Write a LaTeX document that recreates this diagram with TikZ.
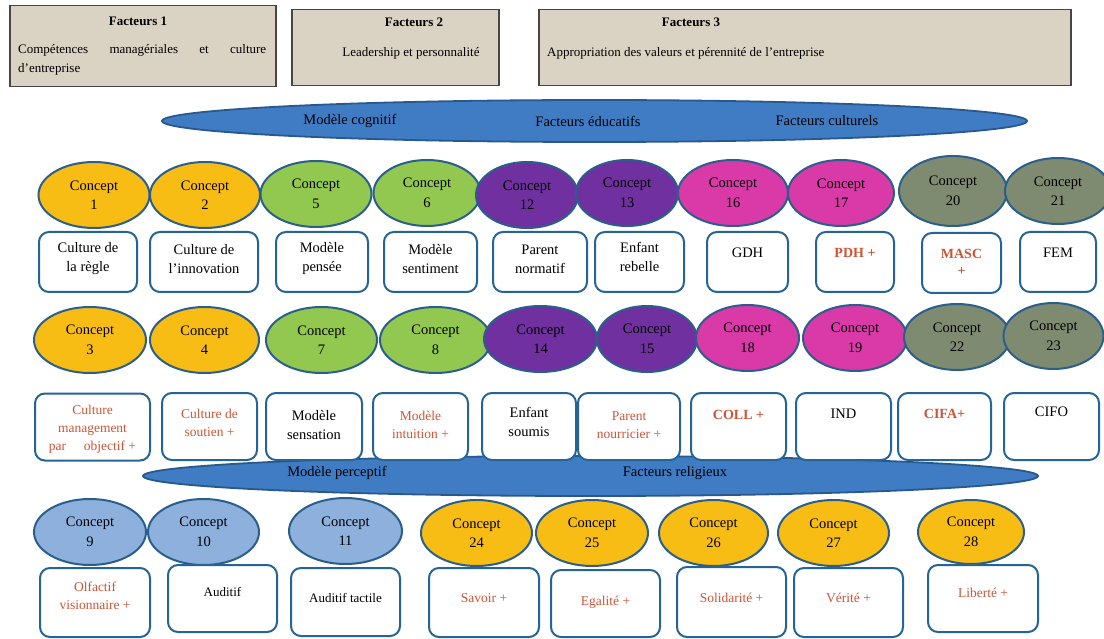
\documentclass[tikz,border=0pt]{standalone}
\usepackage{fontspec}
\setmainfont{Liberation Serif}
\usetikzlibrary{shapes.geometric}
\definecolor{ellb}{RGB}{42,94,140}
\definecolor{boxb}{RGB}{36,100,150}
\definecolor{spfill}{RGB}{64,124,196}
\definecolor{spb}{RGB}{40,88,140}
\definecolor{cgold}{RGB}{248,189,20}
\definecolor{cgreen}{RGB}{146,200,80}
\definecolor{cpurple}{RGB}{112,48,160}
\definecolor{cmagenta}{RGB}{217,58,168}
\definecolor{cgrey}{RGB}{127,139,112}
\definecolor{cblue}{RGB}{141,176,220}
\definecolor{redtxt}{RGB}{205,85,55}
\definecolor{facfill}{RGB}{218,210,195}
\definecolor{facb}{RGB}{70,70,70}
\begin{document}
\begin{tikzpicture}[x=1pt,y=-1pt,
  concept/.style={ellipse, draw=ellb, line width=2pt, inner sep=0pt, align=center,
    font=\fontsize{14.5}{19.5}\selectfont},
  tbox/.style={rectangle, rounded corners=10pt, draw=boxb, line width=2pt, fill=white, inner sep=0pt},
  btext/.style={align=center, inner sep=0pt, font=\fontsize{14.5}{19}\selectfont},
  stext/.style={align=center, inner sep=0pt, font=\fontsize{13}{18}\selectfont},
  rtext/.style={align=center, inner sep=0pt, text=redtxt, font=\fontsize{13.5}{18}\selectfont},
  rbold/.style={align=center, inner sep=0pt, text=redtxt, font=\fontsize{14}{17}\selectfont\bfseries},
  spindle/.style={ellipse, fill=spfill, draw=spb, line width=1.8pt, inner sep=0pt},
  sptext/.style={inner sep=0pt, font=\fontsize{14.5}{17}\selectfont},
  facbox/.style={rectangle, draw=facb, fill=facfill, line width=1.5pt, inner sep=0pt, anchor=north west},
  factitle/.style={inner sep=0pt, font=\fontsize{13}{15}\selectfont\bfseries},
  factext/.style={inner sep=0pt, font=\fontsize{13}{15}\selectfont}]
\useasboundingbox (0,0) rectangle (1104,639);
\fill[white] (0,0) rectangle (1104,639);

% ---- top factor boxes
\node[facbox, minimum width=266, minimum height=81] (f1) at (9,5) {};
\node[factitle] (f1t) at (138,21) {Facteurs 1};
\node[factext, anchor=west] (f1a) at (18,50) {\makebox[248pt][s]{Compétences managériales et culture}};
\node[factext, anchor=west] (f1b) at (18,69) {d'entreprise};

\node[facbox, minimum width=207, minimum height=76] (f2) at (291,9) {};
\node[factitle] (f2t) at (414,22) {Facteurs 2};
\node[factext] (f2a) at (411,53) {Leadership et personnalité};

\node[facbox, minimum width=532, minimum height=76] (f3) at (538,9) {};
\node[factitle] (f3t) at (691,22) {Facteurs 3};
\node[factext, anchor=west] (f3a) at (547,53) {Appropriation des valeurs et pérennité de l'entreprise};

% ---- spindle 1
\node[spindle, minimum width=865, minimum height=42] (s1) at (594.5,121) {};
\node[sptext] (s1a) at (350,121) {Modèle cognitif};
\node[sptext] (s1b) at (588,121) {Facteurs éducatifs};
\node[sptext] (s1c) at (827,121) {Facteurs culturels};

% ---- row 1 concepts
\node[concept, fill=cgold,    minimum width=111, minimum height=66] (c1)  at (94,195)   {Concept\\1};
\node[concept, fill=cgold,    minimum width=110, minimum height=66] (c2)  at (205,195)  {Concept\\2};
\node[concept, fill=cgreen,   minimum width=111, minimum height=66] (c5)  at (316,194)  {Concept\\5};
\node[concept, fill=cgreen,   minimum width=107, minimum height=66] (c6)  at (427,193)  {Concept\\6};
\node[concept, fill=cpurple,  minimum width=102, minimum height=66] (c12) at (527,195)  {Concept\\12};
\node[concept, fill=cpurple,  minimum width=102, minimum height=66] (c13) at (627,193)  {Concept\\13};
\node[concept, fill=cmagenta, minimum width=110, minimum height=66] (c16) at (733,193)  {Concept\\16};
\node[concept, fill=cmagenta, minimum width=106, minimum height=66] (c17) at (841,193)  {Concept\\17};
\node[concept, fill=cgrey,    minimum width=108, minimum height=70] (c20) at (953,191)  {Concept\\20};
\node[concept, fill=cgrey,    minimum width=106, minimum height=66] (c21) at (1058,191) {Concept\\21};

% ---- row 1 boxes
\node[tbox, minimum width=98,  minimum height=60] (b1)  at (88,262)   {};
\node[btext] (t1)  at (88,259)   {Culture de\\la règle};
\node[tbox, minimum width=108, minimum height=60] (b2)  at (204,262)  {};
\node[btext] (t2)  at (204,259)  {Culture de\\l'innovation};
\node[tbox, minimum width=92,  minimum height=60] (b5)  at (322,262)  {};
\node[btext] (t5)  at (322,259)  {Modèle\\pensée};
\node[tbox, minimum width=93,  minimum height=60] (b6)  at (430.5,262) {};
\node[btext] (t6)  at (430.5,259) {Modèle\\sentiment};
\node[tbox, minimum width=94,  minimum height=60] (b12) at (540,262)  {};
\node[btext] (t12) at (540,259)  {Parent\\normatif};
\node[tbox, minimum width=89,  minimum height=60] (b13) at (639.5,262) {};
\node[btext] (t13) at (639.5,257) {Enfant\\rebelle};
\node[tbox, minimum width=81,  minimum height=60] (b16) at (747.5,262) {};
\node[btext] (t16) at (747.5,253) {GDH};
\node[tbox, minimum width=78,  minimum height=60] (b17) at (855,262)  {};
\node[rbold] (t17) at (855,253)  {PDH +};
\node[tbox, minimum width=79,  minimum height=60] (b20) at (961.5,263) {};
\node[rbold] (t20) at (961.5,262) {MASC\\+};
\node[tbox, minimum width=76,  minimum height=60] (b21) at (1058,262) {};
\node[btext] (t21) at (1058,253) {FEM};

% ---- row 2 concepts
\node[concept, fill=cgold,    minimum width=112, minimum height=66] (c3)  at (90,340)    {Concept\\3};
\node[concept, fill=cgold,    minimum width=109, minimum height=66] (c4)  at (204.5,340) {Concept\\4};
\node[concept, fill=cgreen,   minimum width=111, minimum height=66] (c7)  at (321.5,340) {Concept\\7};
\node[concept, fill=cgreen,   minimum width=111, minimum height=66] (c8)  at (435.5,340) {Concept\\8};
\node[concept, fill=cpurple,  minimum width=113, minimum height=66] (c14) at (540.5,339) {Concept\\14};
\node[concept, fill=cpurple,  minimum width=100, minimum height=66] (c15) at (647,339)   {Concept\\15};
\node[concept, fill=cmagenta, minimum width=103, minimum height=66] (c18) at (747.5,338) {Concept\\18};
\node[concept, fill=cmagenta, minimum width=104, minimum height=66] (c19) at (855,338)   {Concept\\19};
\node[concept, fill=cgrey,    minimum width=106, minimum height=66] (c22) at (957,337)   {Concept\\22};
\node[concept, fill=cgrey,    minimum width=100, minimum height=66] (c23) at (1053.5,336) {Concept\\23};

% ---- spindle 2 (behind row 2 boxes)
\node[spindle, minimum width=895, minimum height=40] (s2) at (590.5,476) {};
\node[sptext] (s2a) at (337,473) {Modèle perceptif};
\node[sptext] (s2b) at (675,473) {Facteurs religieux};

% ---- row 2 boxes
\node[tbox, minimum width=115, minimum height=67] (b3)  at (92.5,427)  {};
\node[rtext] (t3)  at (92.5,429)  {Culture\\management\\par\hspace{1.3em}objectif +};
\node[tbox, minimum width=95,  minimum height=67] (b4)  at (209.5,426.5) {};
\node[rtext] (t4)  at (209.5,423) {Culture de\\soutien +};
\node[tbox, minimum width=96,  minimum height=67] (b7)  at (314,426.5)  {};
\node[btext] (t7)  at (314,425)  {Modèle\\sensation};
\node[tbox, minimum width=95,  minimum height=67] (b8)  at (420.5,426.5) {};
\node[rtext] (t8)  at (420.5,425) {Modèle\\intuition +};
\node[tbox, minimum width=94,  minimum height=67] (b14) at (529,426.5)  {};
\node[btext] (t14) at (529,422)  {Enfant\\soumis};
\node[tbox, minimum width=102, minimum height=67] (b15) at (629,426.5)  {};
\node[rtext] (t15) at (629,425)  {Parent\\nourricier +};
\node[tbox, minimum width=95,  minimum height=67] (b18) at (738.5,426.5) {};
\node[rbold] (t18) at (738.5,415) {COLL +};
\node[tbox, minimum width=95,  minimum height=67] (b19) at (843.5,426.5) {};
\node[btext] (t19) at (843.5,414) {IND};
\node[tbox, minimum width=93,  minimum height=67] (b22) at (944.5,426.5) {};
\node[rbold] (t22) at (944.5,414) {CIFA+};
\node[tbox, minimum width=95,  minimum height=67] (b23) at (1051.5,426.5) {};
\node[btext] (t23) at (1051.5,412) {CIFO};

% ---- row 3 concepts
\node[concept, fill=cblue, minimum width=112, minimum height=66] (c9)  at (90,532)    {Concept\\9};
\node[concept, fill=cblue, minimum width=111, minimum height=66] (c10) at (203.5,532) {Concept\\10};
\node[concept, fill=cblue, minimum width=113, minimum height=66] (c11) at (345.5,531) {Concept\\11};
\node[concept, fill=cgold, minimum width=111, minimum height=66] (c24) at (476.5,533) {Concept\\24};
\node[concept, fill=cgold, minimum width=112, minimum height=66] (c25) at (592,533)   {Concept\\25};
\node[concept, fill=cgold, minimum width=109, minimum height=66] (c26) at (713.5,533) {Concept\\26};
\node[concept, fill=cgold, minimum width=111, minimum height=66] (c27) at (833.5,533) {Concept\\27};
\node[concept, fill=cgold, minimum width=106, minimum height=64] (c28) at (971,532)   {Concept\\28};

% ---- row 3 boxes
\node[tbox, minimum width=110, minimum height=69] (b9)  at (95,602.5)   {};
\node[rtext] (t9)  at (95,596)    {Olfactif\\visionnaire +};
\node[tbox, minimum width=109, minimum height=67] (b10) at (222.5,598.5) {};
\node[stext] (t10) at (222.5,592) {Auditif};
\node[tbox, minimum width=109, minimum height=68] (b11) at (345.5,602)  {};
\node[stext] (t11) at (345.5,598) {Auditif tactile};
\node[tbox, minimum width=110, minimum height=69] (b24) at (484,602.5)  {};
\node[rtext] (t24) at (484,598)   {Savoir +};
\node[tbox, minimum width=109, minimum height=67] (b25) at (605.5,603.5) {};
\node[rtext] (t25) at (605.5,602) {Egalité +};
\node[tbox, minimum width=109, minimum height=70] (b26) at (731.5,602) {};
\node[rtext] (t26) at (731.5,598) {Solidarité +};
\node[tbox, minimum width=109, minimum height=69] (b27) at (848.5,602.5) {};
\node[rtext] (t27) at (848.5,598) {Vérité +};
\node[tbox, minimum width=110, minimum height=67] (b28) at (983,598.5)  {};
\node[rtext] (t28) at (983,593)   {Liberté +};
\end{tikzpicture}
\end{document}
